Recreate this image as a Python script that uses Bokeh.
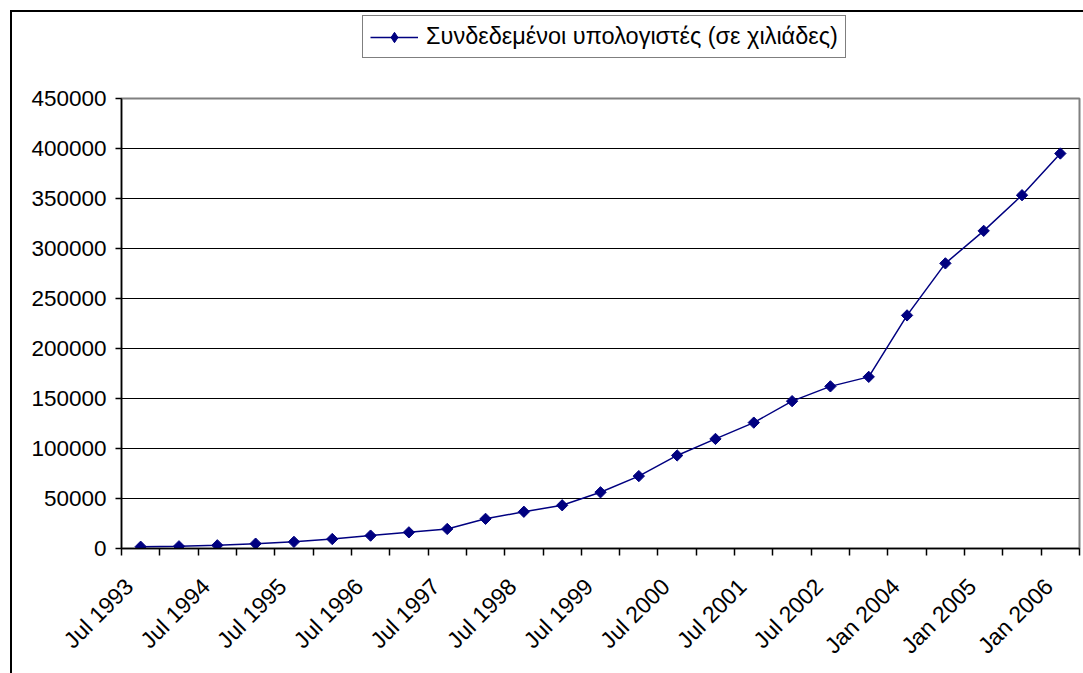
import math
from bokeh.plotting import figure
from bokeh.layouts import column
from bokeh.models import (FixedTicker, Legend, LegendItem, Range1d, ColumnDataSource,
                          InlineStyleSheet)
from bokeh.embed import file_html
from bokeh.resources import INLINE

categories = ["Jul 1993", "Jan 1994", "Jul 1994", "Jan 1995", "Jul 1995", "Jan 1996",
              "Jul 1996", "Jan 1997", "Jul 1997", "Jan 1998", "Jul 1998", "Jan 1999",
              "Jul 1999", "Jan 2000", "Jul 2000", "Jan 2001", "Jul 2001", "Jan 2002",
              "Jul 2002", "Jan 2003", "Jan 2004", "Jul 2004", "Jan 2005", "Jul 2005",
              "Jan 2006"]
hosts = [1776, 2217, 3212, 4852, 6642, 9472, 12881, 16146, 19540, 29670, 36739, 43230,
         56218, 72398, 93048, 109574, 125888, 147345, 162128, 171638, 233101, 285139,
         317646, 353284, 394992]
series_name = "Συνδεδεμένοι υπολογιστές (σε χιλιάδες)"
y_ticks = [0, 50000, 100000, 150000, 200000, 250000, 300000, 350000, 400000, 450000]

FONT = "Liberation Sans"
NAVY = "#000080"
W = 1083
TOP_H = 70

n = len(categories)
xs = [i + 0.5 for i in range(n)]
src = ColumnDataSource(dict(x=xs, y=hosts, cat=categories))

# ---------- main chart ----------
p = figure(width=W, height=673 - TOP_H, output_backend="svg", toolbar_location=None,
           x_range=Range1d(0, n), y_range=Range1d(0, 450000),
           min_border_left=121, min_border_right=4, min_border_top=98 - TOP_H,
           min_border_bottom=125)
p.background_fill_color = "white"
p.border_fill_color = "white"
p.outline_line_color = "#808080"
p.outline_line_width = 2

line = p.line("x", "y", source=src, line_color=NAVY, line_width=1.5)
pts = p.scatter("x", "y", source=src, marker="square", angle=math.pi / 4, size=8,
                fill_color=NAVY, line_color=NAVY)

LABEL_SHIFT = 0.3
label_pos = [xs[i] - LABEL_SHIFT for i in range(0, n, 2)]
p.xaxis.ticker = FixedTicker(ticks=label_pos, minor_ticks=list(range(n + 1)))
p.xaxis.major_label_overrides = {xs[i] - LABEL_SHIFT: categories[i] for i in range(0, n, 2)}
p.xaxis.major_tick_out = 0
p.xaxis.major_tick_in = 0
p.xaxis.minor_tick_out = 7
p.xaxis.minor_tick_in = 0
p.xaxis.minor_tick_line_color = "black"
p.xaxis.minor_tick_line_width = 1.5
p.xaxis.axis_line_color = "black"
p.xaxis.axis_line_width = 1.5
p.xaxis.major_label_orientation = math.pi / 4
p.xaxis.major_label_standoff = 27
p.xaxis.major_label_text_font = FONT
p.xaxis.major_label_text_font_size = "23px"
p.xaxis.major_label_text_color = "black"

p.yaxis.ticker = FixedTicker(ticks=y_ticks)
p.yaxis.major_label_overrides = {v: str(v) for v in y_ticks}
p.yaxis.major_tick_out = 6
p.yaxis.major_tick_in = 0
p.yaxis.minor_tick_out = 0
p.yaxis.minor_tick_in = 0
p.yaxis.major_tick_line_color = "black"
p.yaxis.major_tick_line_width = 1.5
p.yaxis.axis_line_color = "black"
p.yaxis.axis_line_width = 1.5
p.yaxis.major_label_standoff = 9
p.yaxis.major_label_text_font = FONT
p.yaxis.major_label_text_font_size = "22.5px"
p.yaxis.major_label_text_color = "black"

p.xgrid.grid_line_color = None
p.ygrid.grid_line_color = "black"
p.ygrid.grid_line_width = 1

p.stylesheets = [InlineStyleSheet(css=(
    ":host::after { content: ''; position: absolute; left: 10px; top: 0px; "
    "right: -20px; bottom: -20px; border-left: 2px solid black; "
    "pointer-events: none; z-index: 10; }"))]

# ---------- legend strip (top of the chart area) ----------
t = figure(width=W, height=TOP_H, output_backend="svg", toolbar_location=None,
           x_range=Range1d(0, n), y_range=Range1d(-2, -1),
           x_axis_type=None, y_axis_type=None,
           min_border_left=0, min_border_right=0, min_border_top=0, min_border_bottom=0)
t.outline_line_color = None
t.background_fill_color = "white"
t.border_fill_color = "white"
t.grid.grid_line_color = None
key_line = t.line("x", "y", source=src, line_color=NAVY, line_width=1.5)
key_pts = t.scatter("x", "y", source=src, marker="diamond", size=11,
                    fill_color=NAVY, line_color=NAVY)

legend = Legend(items=[LegendItem(label=series_name, renderers=[key_line, key_pts])],
                location=(241, TOP_H - 58), orientation="horizontal")
legend.border_line_color = "black"
legend.border_line_width = 1
legend.background_fill_color = "white"
legend.background_fill_alpha = 1
legend.padding = 7
legend.margin = 0
legend.glyph_width = 48
legend.glyph_height = 26
legend.label_standoff = 8
legend.label_text_font = FONT
legend.label_text_font_size = "23.5px"
legend.label_text_color = "black"
t.add_layout(legend, "center")

t.stylesheets = [InlineStyleSheet(css=(
    ":host::after { content: ''; position: absolute; left: 10px; top: 10px; "
    "right: -20px; bottom: 0px; border-left: 2px solid black; "
    "border-top: 2px solid black; pointer-events: none; z-index: 10; }"))]

layout = column(t, p, spacing=0)
open("out.html", "w").write(file_html(layout, INLINE))
